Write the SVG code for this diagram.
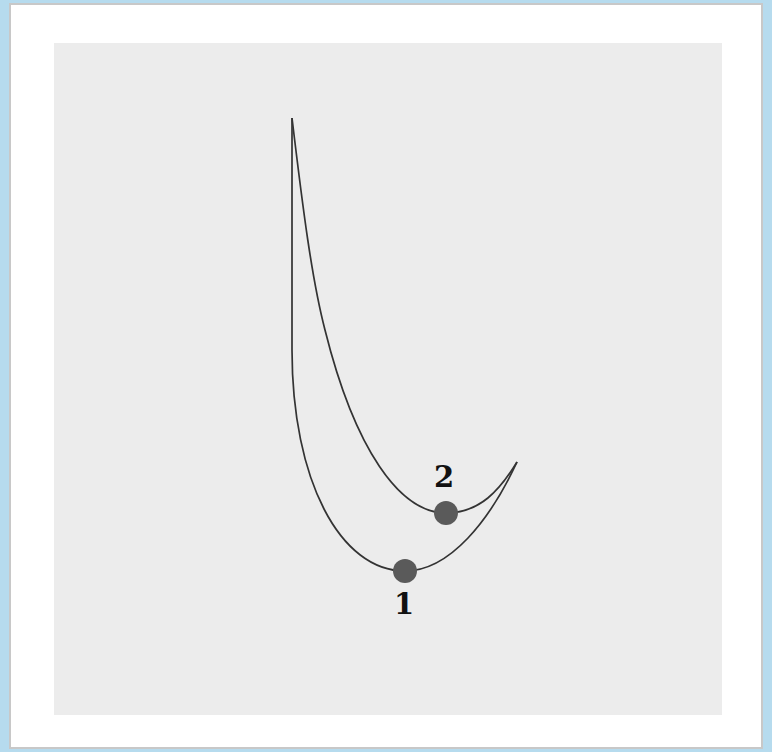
<svg xmlns="http://www.w3.org/2000/svg" width="772" height="752" viewBox="0 0 772 752">
<style>
.curve{fill:none;stroke:#333;stroke-width:1.7}
.dot{fill:#5a5a5a}
.lbl{font-family:"DejaVu Serif","Liberation Serif",serif;font-weight:bold;font-size:29px;fill:#111;text-anchor:middle}
</style>
<rect x="0" y="0" width="772" height="752" fill="#b6dbee"/>
<rect x="10" y="4" width="752" height="744" fill="#ffffff" stroke="#c8c8c8" stroke-width="2"/>
<rect x="54" y="43" width="668" height="672" fill="#ececec"/>
<g id="connectors">
<path class="curve" d="M292,118 L292,350 C292,480 340,571 405,571 C450,571 490,520 517,462"/>
<path class="curve" d="M292,118 C303,210 312,280 325,330 C355,450 400,513 446,513 C480,513 500,490 517,462"/>
</g>
<g id="node1"><circle class="dot" cx="405" cy="571" r="12"/><text class="lbl" x="404" y="614">1</text></g>
<g id="node2"><circle class="dot" cx="446" cy="513" r="12"/><text class="lbl" x="444" y="487">2</text></g>
</svg>
